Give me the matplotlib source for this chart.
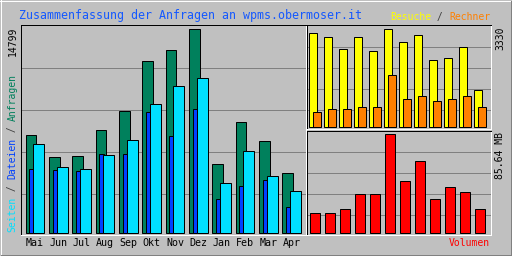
import matplotlib
matplotlib.use("Agg")
import matplotlib.pyplot as plt
from matplotlib.lines import Line2D
import numpy as np

# ---------------- data ----------------
months = ["Mai", "Jun", "Jul", "Aug", "Sep", "Okt", "Nov", "Dez", "Jan", "Feb", "Mar", "Apr"]
anfragen = [7079, 5477, 5550, 7443, 8827, 12468, 13270, 14799, 4967, 8026, 6642, 4312]
dateien = [4603, 4530, 4457, 5695, 5695, 8754, 7006, 8973, 2418, 3365, 3802, 1835]
seiten = [6424, 4748, 4603, 5622, 6715, 9337, 10648, 11230, 3583, 5914, 4093, 3001]
besuche = [3193, 3057, 2648, 3057, 2580, 3330, 2887, 3125, 2273, 2341, 2716, 1251]
rechner = [501, 603, 603, 671, 671, 1762, 944, 1046, 876, 944, 1046, 671]
volumen_mb = [16.7, 16.7, 20.2, 33.3, 33.3, 85.64, 44.7, 62.1, 29.0, 39.4, 35.1, 20.2]

title = "Zusammenfassung der Anfragen an wpms.obermoser.it"
max_hits_label = "14799"
max_visits_label = "3330"
max_kbytes_label = "85.64 MB"

# ---------------- style ----------------
BG = "#C0C0C0"
GRID = "#808080"
C_HITS = "#00805C"
C_FILES = "#0040FF"
C_PAGES = "#00E0FF"
C_VISITS = "#FFFF00"
C_SITES = "#FF8000"
C_KBYTES = "#FF0000"
C_TITLE = "#1458FF"
MONO = "DejaVu Sans Mono"
LW = 0.72  # 1 px

W, H = 512, 256
fig = plt.figure(figsize=(W / 100, H / 100), dpi=100, facecolor=BG)


def add_axes_px(left, top, right, bottom):
    return fig.add_axes([left / W, 1 - bottom / H, (right - left) / W, (bottom - top) / H])


def style_axes(ax):
    ax.set_facecolor(BG)
    for s in ["left", "top"]:
        ax.spines[s].set_color("black")
        ax.spines[s].set_linewidth(LW)
    for s in ["right", "bottom"]:
        ax.spines[s].set_color("white")
        ax.spines[s].set_linewidth(LW)
    ax.tick_params(length=0)
    ax.set_yticks([])


def grid_px(ax, top, bottom, rows):
    h = bottom - top
    for r in rows:
        f = (bottom - (r + 0.5)) / h
        ax.plot([0, 1], [f, f], transform=ax.transAxes, color=GRID, lw=LW, zorder=0.5)


def set_ylim_px(ax, top, bottom, base, peak_px, peak_val):
    scale = peak_val / (base - peak_px)
    ax.set_ylim(-(bottom - base) * scale, (base - top) * scale)


x = np.arange(12)

# ---------------- main panel ----------------
mt, mb, ml, mr = 24.5, 234.5, 20.5, 305.5
slot = 23.33
ax = add_axes_px(ml, mt, mr, mb)
style_axes(ax)
ax.set_xlim(0, (mr - ml) / slot)
set_ylim_px(ax, mt, mb, 232.5, 29.3, max(anfragen))
grid_px(ax, mt, mb, [67, 109, 151, 193])
bk = dict(edgecolor="black", linewidth=LW, align="edge", zorder=2)
ax.bar(x + 0.223, anfragen, width=0.454, color=C_HITS, **bk)
ax.bar(x + 0.377, dateien, width=0.189, color=C_FILES, **bk)
ax.bar(x + 0.549, seiten, width=0.47, color=C_PAGES, **bk)
ax.set_xticks(x + 0.62, months)
ax.tick_params(axis="x", pad=2.2)
for t in ax.get_xticklabels():
    t.set_fontfamily(MONO)
    t.set_fontsize(7.2)

# ---------------- visits / sites panel ----------------
rl, rr = 306.5, 490.5
vt, vb = 24.5, 128.5
slot2 = 15.0
av = add_axes_px(rl, vt, rr, vb)
style_axes(av)
av.set_xticks([])
av.set_xlim(0, (rr - rl) / slot2)
set_ylim_px(av, vt, vb, 127.0, 29.3, max(besuche))
grid_px(av, vt, vb, [46, 67, 88, 109])
av.bar(x + 0.187, besuche, width=0.49, color=C_VISITS, **bk)
av.bar(x + 0.453, rechner, width=0.49, color=C_SITES, **bk)

# ---------------- volume panel ----------------
kt, kb = 130.5, 234.5
ak = add_axes_px(rl, kt, rr, kb)
style_axes(ak)
ak.set_xticks([])
ak.set_xlim(0, (rr - rl) / slot2)
set_ylim_px(ak, kt, kb, 232.5, 134.3, max(volumen_mb))
grid_px(ak, kt, kb, [151, 172, 193, 214])
ak.bar(x + 0.253, volumen_mb, width=0.627, color=C_KBYTES, **bk)

# ---------------- overlay (pixel coordinates) ----------------
ov = fig.add_axes([0, 0, 1, 1], facecolor="none")
ov.set_xlim(0, W)
ov.set_ylim(H, 0)
ov.axis("off")

# image border
ov.add_line(Line2D([0, W], [0.5, 0.5], color="white", lw=LW))
ov.add_line(Line2D([0.5, 0.5], [0, H], color="white", lw=LW))
ov.add_line(Line2D([0, W], [H - 0.5, H - 0.5], color="black", lw=LW))
ov.add_line(Line2D([W - 0.5, W - 0.5], [0, H], color="black", lw=LW))
ov.add_line(Line2D([1, W - 1], [H - 1.5, H - 1.5], color=GRID, lw=LW))
ov.add_line(Line2D([W - 1.5, W - 1.5], [1, H - 1], color=GRID, lw=LW))

ov.text(19, 15, title, color=C_TITLE, fontfamily=MONO, fontsize=8.4, ha="left", va="center")

small = 7.0
cw = small / 72 * 100 * 0.602  # monospaced advance in px

# legend top-right: Besuche / Rechner (right aligned at 490)
parts = [("Besuche", C_VISITS), (" / ", "#404040"), ("Rechner", C_SITES)]
total = sum(len(p) for p, _ in parts)
xs = 490 - total * cw
for p, c in parts:
    ov.text(xs, 17, p, color=c, fontfamily=MONO, fontsize=small, ha="left", va="center")
    xs += len(p) * cw

ov.text(490, 243, "Volumen", color=C_KBYTES, fontfamily=MONO, fontsize=small, ha="right", va="center")

# left rotated label
parts = [("Seiten", C_PAGES), (" / ", "#404040"), ("Dateien", C_FILES), (" / ", "#404040"), ("Anfragen", C_HITS)]
ys = 232
for p, c in parts:
    ov.text(12.5, ys, p, color=c, fontfamily=MONO, fontsize=small, rotation=90,
            rotation_mode="anchor", ha="left", va="center")
    ys -= len(p) * cw

ov.text(12.5, 27, max_hits_label, color="black", fontfamily=MONO, fontsize=small, rotation=90,
        rotation_mode="anchor", ha="right", va="center")
ov.text(500, 27, max_visits_label, color="black", fontfamily=MONO, fontsize=small, rotation=90,
        rotation_mode="anchor", ha="right", va="center")
ov.text(500, 132, max_kbytes_label, color="black", fontfamily=MONO, fontsize=small, rotation=90,
        rotation_mode="anchor", ha="right", va="center")

fig.savefig("out.png", dpi=100, facecolor=BG)
